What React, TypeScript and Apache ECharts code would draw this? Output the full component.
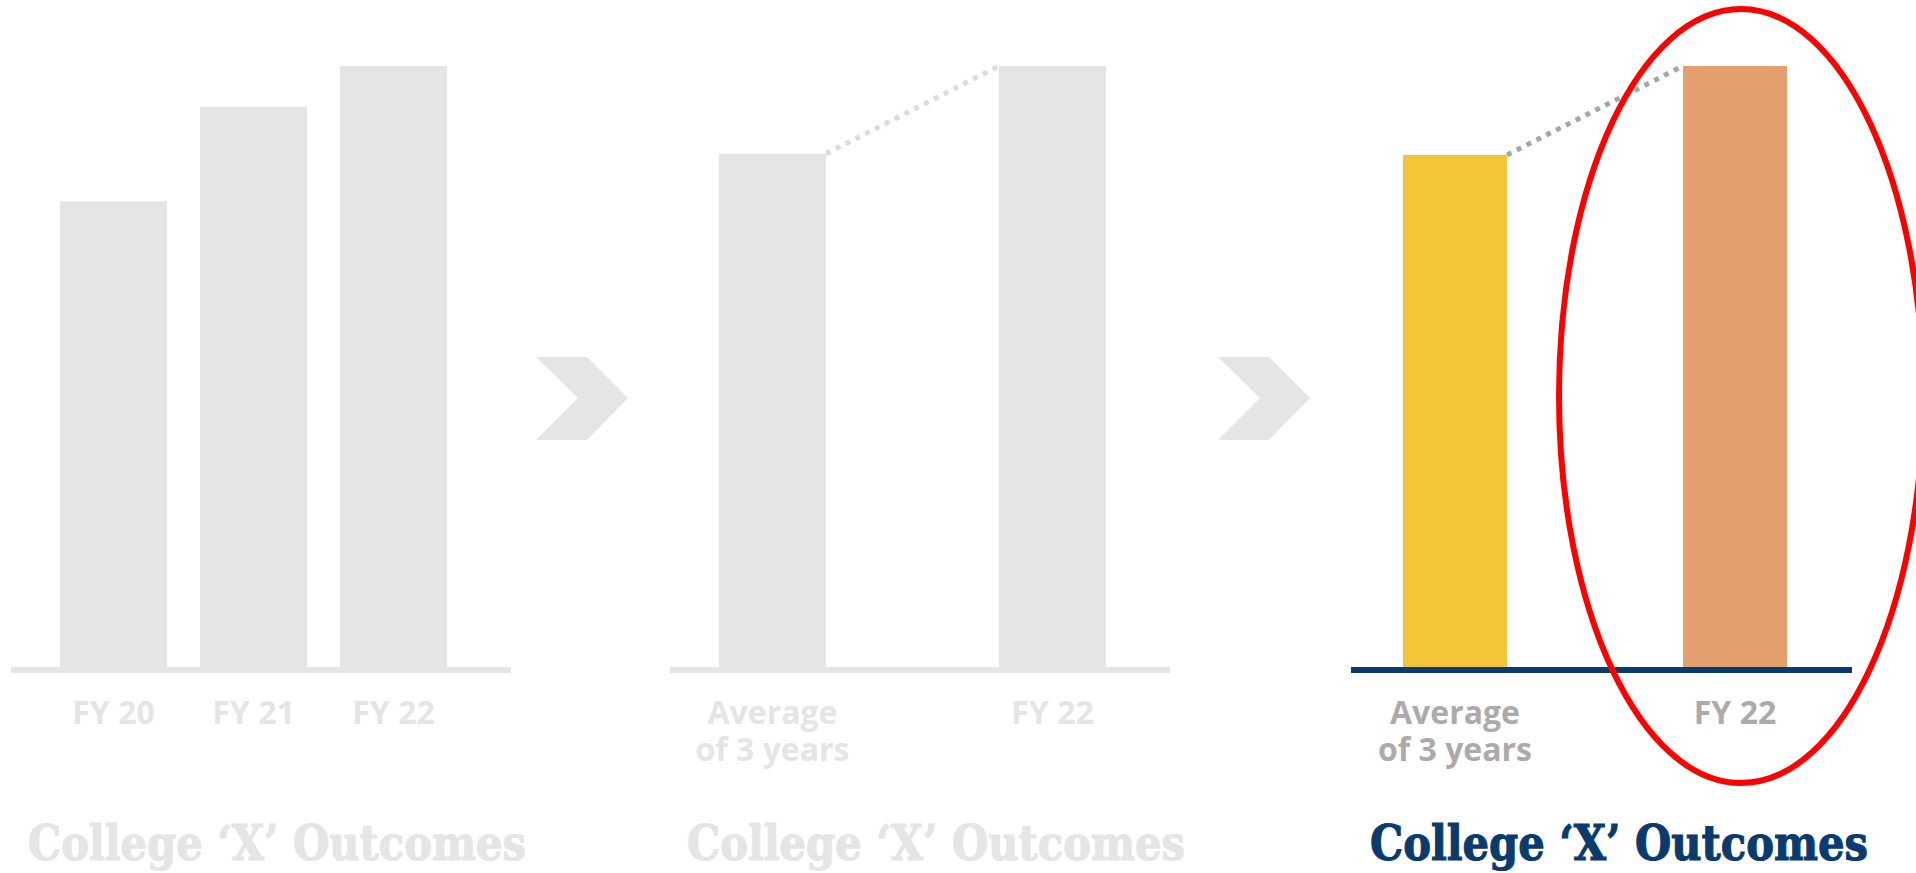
import React, { useEffect, useRef } from "react";
import * as echarts from "echarts";

// ---- data ----
const panel1Categories = ["FY 20", "FY 21", "FY 22"];
const panel1Values = [77.5, 93.2, 100];
const panel2Categories = ["Average\nof 3 years", "FY 22"];
const panel2Values = [85.4, 100];
const panel3Categories = ["Average\nof 3 years", "FY 22"];
const panel3Values = [85.2, 100];
const panelTitles = ["College ‘X’ Outcomes", "College ‘X’ Outcomes", "College ‘X’ Outcomes"];

// ---- styles ----
const GREY = "#e5e5e5";
const NAVY = "#0a3b6f";
const LABEL_GREY = "#aeaaaa";
const YELLOW = "#f4c439";
const ORANGE = "#e49f6f";
const DOT_LIGHT = "#dcdcdc";
const DOT_DARK = "#a6a6a6";

const GRID_TOP = 66;
const GRID_BOTTOM = 206;
const BASE_Y = 670;

function axisLabel(color: string) {
  return {
    color,
    fontSize: 32,
    fontWeight: "bold" as const,
    fontFamily: "Open Sans",
    lineHeight: 37,
    margin: 26,
  };
}

function xAxis(gridIndex: number, data: string[], color: string) {
  return {
    type: "category" as const,
    gridIndex,
    data,
    axisLine: { show: false },
    axisTick: { show: false },
    axisLabel: axisLabel(color),
  };
}

function yAxis(gridIndex: number) {
  return { type: "value" as const, gridIndex, min: 0, max: 100, show: false };
}

function chevron(dx: number) {
  const pts = [
    [536, 357],
    [587, 357],
    [628, 398],
    [587, 440],
    [536, 440],
    [578, 398],
  ];
  return {
    type: "polygon",
    shape: { points: pts.map(([x, y]) => [x + dx, y]) },
    style: { fill: GREY },
    z: 5,
  };
}

function baseline(id: string, x1: number, x2: number, color: string) {
  return {
    type: "line",
    id,
    shape: { x1, y1: BASE_Y, x2, y2: BASE_Y },
    style: { stroke: color, lineWidth: 6 },
    z: 10,
  };
}

function title(id: string, text: string, x: number, color: string) {
  return {
    type: "text",
    id,
    x,
    y: 843,
    scaleX: 0.85,
    z: 10,
    style: {
      text,
      fill: color,
      stroke: color,
      lineWidth: 1.2,
      fontSize: 49,
      fontWeight: "bold",
      fontFamily: "DejaVu Serif",
      align: "center",
      verticalAlign: "middle",
      textAlign: "center",
      textVerticalAlign: "middle",
    },
  };
}

export default function App() {
  const ref = useRef<HTMLDivElement>(null);

  useEffect(() => {
    if (!ref.current) return;
    const chart = echarts.init(ref.current, null, { renderer: "svg" });
    const option: any = {
      animation: false,
      backgroundColor: "#ffffff",
      grid: [
        { left: 43.5, width: 420, top: GRID_TOP, bottom: GRID_BOTTOM },
        { left: 632.5, width: 560, top: GRID_TOP, bottom: GRID_BOTTOM },
        { left: 1315, width: 560, top: GRID_TOP, bottom: GRID_BOTTOM },
      ],
      xAxis: [
        xAxis(0, panel1Categories, GREY),
        xAxis(1, panel2Categories, GREY),
        xAxis(2, panel3Categories, LABEL_GREY),
      ],
      yAxis: [yAxis(0), yAxis(1), yAxis(2)],
      series: [
        {
          type: "bar",
          xAxisIndex: 0,
          yAxisIndex: 0,
          barWidth: 107,
          data: panel1Values,
          itemStyle: { color: GREY },
        },
        {
          type: "bar",
          xAxisIndex: 1,
          yAxisIndex: 1,
          barWidth: 107,
          data: panel2Values,
          itemStyle: { color: GREY },
        },
        {
          type: "bar",
          xAxisIndex: 2,
          yAxisIndex: 2,
          barWidth: 104,
          data: panel3Values.map((v, i) => ({
            value: v,
            itemStyle: { color: i === 0 ? YELLOW : ORANGE },
          })),
        },
      ],
      graphic: [
        baseline("b1", 11, 511, GREY),
        baseline("b2", 670, 1170, GREY),
        baseline("b3", 1351, 1852, NAVY),
        { ...chevron(0), id: "c1" },
        { ...chevron(682), id: "c2" },
        title("t1", panelTitles[0], 277, GREY),
        title("t2", panelTitles[1], 936, GREY),
        title("t3", panelTitles[2], 1619, NAVY),
      ],
    };
    chart.setOption(option);

    const connector = (
      id: string,
      axisIndex: number,
      values: number[],
      half: number,
      color: string,
      width: number
    ) => {
      const a = chart.convertToPixel(
        { xAxisIndex: axisIndex, yAxisIndex: axisIndex },
        [0, values[0]]
      ) as number[];
      const b = chart.convertToPixel(
        { xAxisIndex: axisIndex, yAxisIndex: axisIndex },
        [1, values[1]]
      ) as number[];
      return {
        type: "line",
        id,
        shape: { x1: a[0] + half, y1: a[1], x2: b[0] - half, y2: b[1] },
        style: { stroke: color, lineWidth: width, lineDash: [5, 6], lineCap: "butt" },
        z: 12,
      };
    };

    chart.setOption({
      graphic: [
        connector("d2", 1, panel2Values, 53.5, DOT_LIGHT, 5),
        connector("d3", 2, panel3Values, 52, DOT_DARK, 5),
        {
          type: "ellipse",
          id: "ring",
          shape: { cx: 1741, cy: 396, rx: 182, ry: 387 },
          style: { fill: "none", stroke: "#ff0000", lineWidth: 6 },
          z: 20,
        },
      ],
    });

    return () => chart.dispose();
  }, []);

  return (
    <div
      ref={ref}
      style={{ position: "fixed", left: 0, top: 0, width: 1916, height: 873 }}
    />
  );
}
